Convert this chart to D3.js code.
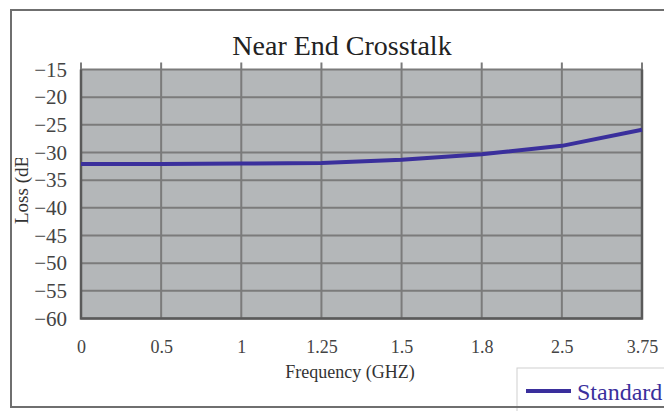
<!DOCTYPE html>
<html>
<head>
<meta charset="utf-8">
<script src="https://cdn.jsdelivr.net/npm/d3@7"></script>
<style>
  body { margin: 0; background: #fff; }
  svg text { font-family: "Liberation Serif", "DejaVu Serif", serif !important; }
</style>
</head>
<body>
<div id="chart"></div>
<script>
// chart data
const frequencies = ['0', '0.5', '1', '1.25', '1.5', '1.8', '2.5', '3.75'];
const standardLoss = [-32.1, -32.1, -32.0, -31.9, -31.3, -30.3, -28.8, -25.9];
const yTicks = [-15, -20, -25, -30, -35, -40, -45, -50, -55, -60];

const width = 664, height = 411;
const margin = {top: 69.5, right: 22, bottom: 92.5, left: 81};
const innerW = width - margin.left - margin.right;
const innerH = height - margin.top - margin.bottom;

const svg = d3.select('#chart').append('svg')
    .attr('width', width)
    .attr('height', height);

// outer frame, right edge runs off the picture
svg.append('rect')
    .attr('x', 11).attr('y', 10)
    .attr('width', 680).attr('height', 397)
    .attr('fill', 'none')
    .attr('stroke', '#6f6f6f')
    .attr('stroke-width', 2);

const chart = svg.append('g')
    .attr('transform', `translate(${margin.left},${margin.top})`);

const x = d3.scalePoint().domain(frequencies).range([0, innerW]).padding(0);
const y = d3.scaleLinear().domain([-60, -15]).range([innerH, 0]);

// plot background
chart.append('rect')
    .attr('width', innerW).attr('height', innerH)
    .attr('fill', '#b4b7b9');

// horizontal grid
chart.selectAll('.hgrid')
    .data(yTicks)
  .join('line')
    .attr('class', 'hgrid')
    .attr('x1', 0).attr('x2', innerW)
    .attr('y1', d => y(d)).attr('y2', d => y(d))
    .attr('stroke', '#7b7b7b')
    .attr('stroke-width', 2);

// vertical grid, poking up above the plot as tick marks
chart.selectAll('.vgrid')
    .data(frequencies)
  .join('line')
    .attr('class', 'vgrid')
    .attr('x1', d => x(d)).attr('x2', d => x(d))
    .attr('y1', -7).attr('y2', innerH)
    .attr('stroke', '#7b7b7b')
    .attr('stroke-width', 2);

// darker frame on left, bottom, right
chart.append('path')
    .attr('d', `M0,0V${innerH}H${innerW}V0`)
    .attr('fill', 'none')
    .attr('stroke', '#5a5a5a')
    .attr('stroke-width', 2.5);

// y tick labels
const yAxis = d3.axisLeft(y).tickValues(yTicks).tickSize(0).tickPadding(14);
chart.append('g')
    .call(yAxis)
    .attr('font-size', null).attr('font-family', null)
    .call(g => g.select('.domain').remove())
    .selectAll('text')
    .style('font-size', '21px')
    .attr('fill', '#444');

// x tick labels
const xAxis = d3.axisBottom(x).tickSize(0).tickPadding(22);
chart.append('g')
    .attr('transform', `translate(0,${innerH})`)
    .call(xAxis)
    .attr('font-size', null).attr('font-family', null)
    .call(g => g.select('.domain').remove())
    .selectAll('text')
    .style('font-size', '18px')
    .attr('fill', '#444');

// data line
const line = d3.line()
    .x((d, i) => x(frequencies[i]))
    .y(d => y(d));

chart.append('path')
    .datum(standardLoss)
    .attr('d', line)
    .attr('fill', 'none')
    .attr('stroke', '#3a2f9c')
    .attr('stroke-width', 4);

// title
svg.append('text')
    .attr('x', 342).attr('y', 55)
    .attr('text-anchor', 'middle')
    .style('font-size', '28px')
    .attr('fill', '#222')
    .text('Near End Crosstalk');

// x axis title
svg.append('text')
    .attr('x', 350).attr('y', 378)
    .attr('text-anchor', 'middle')
    .style('font-size', '18px')
    .attr('fill', '#333')
    .text('Frequency (GHZ)');

// y axis title, clipped at the top like the original
svg.append('clipPath').attr('id', 'ylab-clip')
  .append('rect')
    .attr('x', 0).attr('y', 158).attr('width', 40).attr('height', 80);

svg.append('g')
    .attr('clip-path', 'url(#ylab-clip)')
  .append('text')
    .attr('transform', 'translate(28,224) rotate(-90)')
    .style('font-size', '19px')
    .attr('fill', '#333')
    .text('Loss (dB)');

// legend
const legend = svg.append('g')
    .attr('transform', 'translate(517,368)');

legend.append('rect')
    .attr('width', 160).attr('height', 60)
    .attr('fill', '#fff')
    .attr('stroke', '#d0d0d0')
    .attr('stroke-width', 1);

legend.append('line')
    .attr('x1', 9).attr('x2', 54)
    .attr('y1', 23).attr('y2', 23)
    .attr('stroke', '#3a2f9c')
    .attr('stroke-width', 4);

legend.append('text')
    .attr('x', 60).attr('y', 32)
    .style('font-size', '24px')
    .attr('fill', '#3a2f9c')
    .text('Standard');

// redraw outer frame bottom over legend
svg.append('line')
    .attr('x1', 11).attr('x2', 664)
    .attr('y1', 407).attr('y2', 407)
    .attr('stroke', '#6f6f6f')
    .attr('stroke-width', 2);
</script>
</body>
</html>
